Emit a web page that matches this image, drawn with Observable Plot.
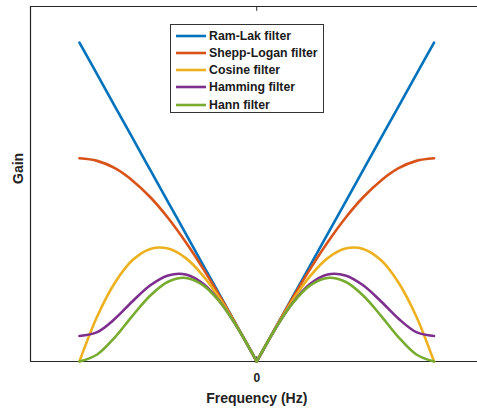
<!DOCTYPE html>
<html>
<head>
<meta charset="utf-8">
<script src="https://cdn.jsdelivr.net/npm/d3@7"></script>
<script src="https://cdn.jsdelivr.net/npm/@observablehq/plot@0.6"></script>
<style>
  html, body { margin: 0; padding: 0; background: #fff; }
  #wrap { position: relative; width: 477px; height: 409px; overflow: hidden; font-family: "Liberation Sans", Arial, sans-serif; }
  #legend { position: absolute; left: 170px; top: 24px; width: 154px; height: 89px; border: 1px solid #333; background: #fff; box-sizing: border-box; }
  .row { position: absolute; left: 0; height: 17px; display: flex; align-items: center; font-weight: bold; font-size: 12.3px; color: #1a1a1a; white-space: nowrap; }
  .row svg { margin-left: 5px; margin-right: 3px; }
</style>
</head>
<body>
<div id="wrap"><div id="chart"></div><div id="legend"></div></div>
<script>
// Frequency samples (normalised), left to right
const freq = [-1.0,-0.9,-0.8,-0.7,-0.6,-0.5,-0.4,-0.3,-0.2,-0.1,0,0.1,0.2,0.3,0.4,0.5,0.6,0.7,0.8,0.9,1.0];
// Gain of each filter
const ramLak     = [1.000,0.900,0.800,0.700,0.600,0.500,0.400,0.300,0.200,0.100,0,0.100,0.200,0.300,0.400,0.500,0.600,0.700,0.800,0.900,1.000];
const sheppLogan = [0.637,0.629,0.606,0.567,0.515,0.450,0.374,0.289,0.197,0.100,0,0.100,0.197,0.289,0.374,0.450,0.515,0.567,0.606,0.629,0.637];
const cosine     = [0.000,0.141,0.247,0.318,0.353,0.354,0.324,0.267,0.190,0.099,0,0.099,0.190,0.267,0.324,0.354,0.353,0.318,0.247,0.141,0.000];
const hamming    = [0.080,0.092,0.134,0.189,0.239,0.270,0.273,0.243,0.182,0.098,0,0.098,0.182,0.243,0.273,0.270,0.239,0.189,0.134,0.092,0.080];
const hann       = [0.000,0.022,0.076,0.144,0.207,0.250,0.262,0.238,0.181,0.098,0,0.098,0.181,0.238,0.262,0.250,0.207,0.144,0.076,0.022,0.000];

const names  = ["Ram-Lak filter","Shepp-Logan filter","Cosine filter","Hamming filter","Hann filter"];
const series = [ramLak, sheppLogan, cosine, hamming, hann];
const colors = ["#0072BD","#D95319","#EDB120","#7E2F8E","#77AC30"];
const xTicks = [0];
const xTickLabels = ["0"];

const rows = [];
series.forEach((vals, si) => {
  vals.forEach((v, i) => {
    const f = freq[i];
    // split at zero into two branches so the notch stays sharp
    if (f <= 0) rows.push({name: names[si], side: "L", f, g: v});
    if (f >= 0) rows.push({name: names[si], side: "R", f, g: v});
  });
});

const yMax = 1.113;
const axisColor = "#262626";

const chart = Plot.plot({
  width: 477,
  height: 409,
  marginLeft: 30,
  marginRight: 0,
  marginTop: 6,
  marginBottom: 48,
  style: {fontFamily: "'Liberation Sans', Arial, sans-serif", background: "#fff"},
  x: {domain: [-1.276, 1.245], label: null},
  y: {domain: [0, yMax], label: null},
  color: {domain: names, range: colors},
  marks: [
    Plot.axisX({ticks: xTicks, tickFormat: (d, i) => xTickLabels[i], tickSize: 0, tickPadding: 12, fontSize: 12, fontWeight: "bold", color: "#222", label: null}),
    Plot.axisY({ticks: [], label: null}),
    Plot.ruleY([0], {stroke: axisColor, strokeWidth: 1.2}),
    Plot.ruleY([yMax], {stroke: axisColor, strokeWidth: 1.2}),
    Plot.ruleX([-1.276], {stroke: axisColor, strokeWidth: 1.2}),
    Plot.ruleX(xTicks, {y1: yMax, y2: yMax - 0.015, stroke: axisColor, strokeWidth: 1}),
    Plot.ruleX(xTicks, {y1: 0, y2: 0.015, stroke: axisColor, strokeWidth: 1}),
    Plot.line(rows, {x: "f", y: "g", z: d => d.name + d.side, stroke: "name", strokeWidth: 2.6, curve: "catmull-rom"}),
    Plot.text(["Gain"], {frameAnchor: "left", dx: -12, rotate: -90, fontSize: 14, fontWeight: "bold", fill: "#222"}),
    Plot.text(["Frequency (Hz)"], {x: 0, frameAnchor: "bottom", dy: 41, fontSize: 14, fontWeight: "bold", fill: "#222"})
  ]
});
document.getElementById("chart").appendChild(chart);

// Legend
const legend = document.getElementById("legend");
names.forEach((n, i) => {
  const r = document.createElement("div");
  r.className = "row";
  r.style.top = (2 + i * 17.3) + "px";
  r.innerHTML = `<svg width="30" height="4"><line x1="0" x2="30" y1="2" y2="2" stroke="${colors[i]}" stroke-width="2.6"/></svg>${n}`;
  legend.appendChild(r);
});
</script>
</body>
</html>
